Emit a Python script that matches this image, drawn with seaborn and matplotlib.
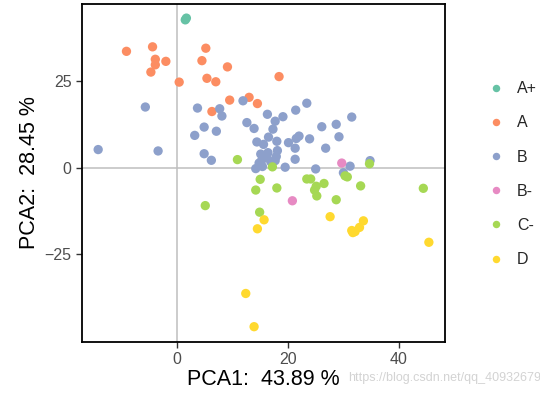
import matplotlib
matplotlib.use("Agg")
import matplotlib.pyplot as plt
import pandas as pd
import seaborn as sns

# PCA scores, one list pair per grade
grades = ["A+", "A", "B", "B-", "C-", "D"]
palette = ["#66C2A5", "#FC8D62", "#8DA0CB", "#E78AC3", "#A6D854", "#FFD92F"]

ap_x = [1.5, 1.7]
ap_y = [42.8, 43.3]

a_x = [-9.1, -4.4, -3.9, -3.9, -2.0, -4.7, 0.4, 5.2, 4.5, 9.1, 5.4, 7.0, 9.5, 13.0, 14.5, 6.3, 18.4]
a_y = [33.7, 35.0, 31.4, 29.8, 30.8, 27.7, 24.8, 34.6, 31.0, 29.2, 25.9, 24.9, 19.6, 20.4, 18.6, 16.3, 26.4]

b_x = [-5.7, -14.2, -3.4, 3.7, 7.7, 8.1, 11.9, 4.9, 3.2, 7.1, 4.9, 6.2, 12.6, 13.9,
       23.4, 21.4, 16.3, 19.1, 17.7, 17.3, 31.5, 26.1, 28.7, 29.2, 16.5, 14.4, 15.6,
       18.0, 20.1, 22.0, 21.5, 21.3, 23.9, 26.8, 15.1, 16.4, 18.1, 17.9, 15.3, 14.8,
       16.2, 16.9, 17.7, 14.2, 15.4, 19.5, 21.3, 25.0, 31.2, 30.0, 34.8]
b_y = [17.6, 5.3, 4.9, 17.3, 17.1, 15.0, 19.4, 11.8, 9.4, 10.6, 4.1, 2.2, 13.1, 11.4,
       18.7, 16.7, 15.5, 14.8, 13.5, 11.2, 14.7, 11.9, 12.6, 9.0, 8.9, 7.5, 6.8,
       7.7, 7.3, 9.2, 8.5, 5.7, 8.4, 5.7, 4.0, 4.4, 5.0, 3.3, 2.3, 1.4,
       3.1, 1.8, 2.1, -0.2, 0.4, 0.2, 2.5, -0.3, 0.5, -1.4, 2.1]

bm_x = [29.7, 20.8]
bm_y = [1.4, -9.5]

cm_x = [10.9, 17.2, 34.7, 15.0, 14.2, 18.0, 23.4, 24.1, 25.1, 26.5, 25.2, 24.8,
        30.3, 30.7, 33.1, 28.7, 5.1, 14.9, 44.4]
cm_y = [2.4, 0.3, 1.2, -3.3, -6.4, -5.8, -3.2, -3.2, -5.3, -4.5, -8.1, -6.4,
        -2.3, -2.6, -5.2, -9.2, -10.9, -12.8, -5.9]

d_x = [15.7, 14.5, 27.6, 33.6, 32.9, 31.5, 32.1, 31.7, 45.4, 12.4, 13.9]
d_y = [-15.0, -17.6, -14.1, -15.3, -17.2, -18.1, -18.4, -18.7, -21.5, -36.3, -45.9]

xs = [ap_x, a_x, b_x, bm_x, cm_x, d_x]
ys = [ap_y, a_y, b_y, bm_y, cm_y, d_y]
df = pd.concat(
    [pd.DataFrame({"PC1": x, "PC2": y, "grade": g}) for g, x, y in zip(grades, xs, ys)],
    ignore_index=True,
)

sns.set_style("white")
plt.rcParams["font.family"] = ["Liberation Sans", "DejaVu Sans"]

fig = plt.figure(figsize=(5.4, 3.93), dpi=100)
ax = fig.add_axes([0.152, 0.130, 0.672, 0.860])

ax.axhline(0, color="#BEBEBE", lw=1.1, zorder=0)
ax.axvline(0, color="#BEBEBE", lw=1.1, zorder=0)

sns.scatterplot(data=df, x="PC1", y="PC2", hue="grade", hue_order=grades,
                palette=palette, s=45, linewidth=0, alpha=1, ax=ax, zorder=3)

ax.set_xlim(-17.1, 48.3)
ax.set_ylim(-50.3, 47.4)
ax.set_xticks([0, 20, 40])
ax.set_yticks([-25, 0, 25])
ax.tick_params(axis="both", direction="out", length=4, width=1, color="#333333",
               labelsize=11.5, labelcolor="#4D4D4D", bottom=True, left=True)
for sp in ax.spines.values():
    sp.set_color("black")
    sp.set_linewidth(1.3)

ax.set_xlabel("PCA1:  43.89 %", fontsize=15.5, color="black", labelpad=1)
ax.set_ylabel("PCA2:  28.45 %", fontsize=15.5, color="black", labelpad=3)

handles, labels = ax.get_legend_handles_labels()
ax.legend(handles, labels, loc="upper left", bbox_to_anchor=(1.08, 0.79),
          frameon=False, fontsize=11.5, labelspacing=1.2, handletextpad=0.3,
          markerscale=0.8, borderaxespad=0)

fig.text(0.645, 0.03, "https://blog.csdn.net/qq_40932679", color="#C8C8C8",
         fontsize=9, alpha=0.8)

fig.savefig("out.png", dpi=100)
